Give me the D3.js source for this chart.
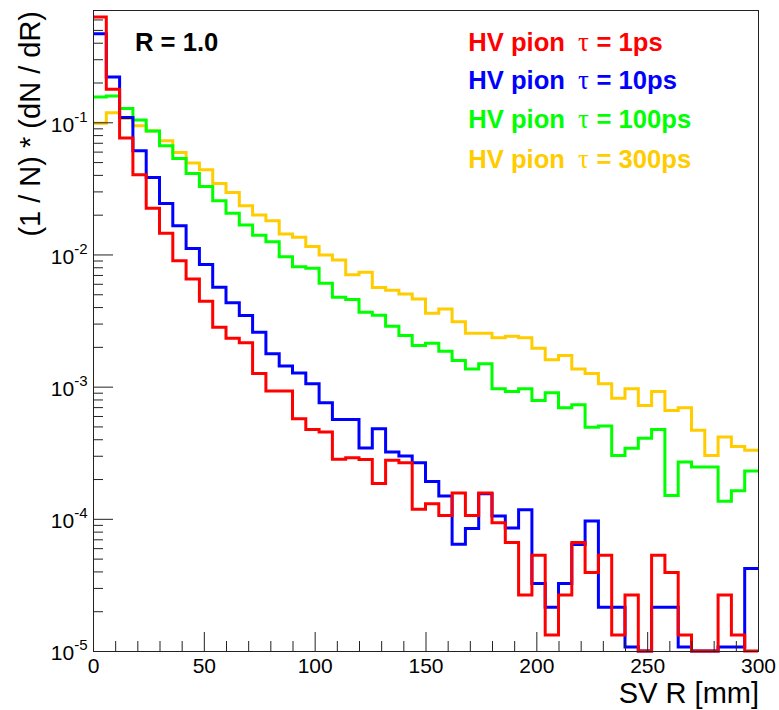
<!DOCTYPE html>
<html><head><meta charset="utf-8">
<script src="https://cdn.jsdelivr.net/npm/d3@7"></script>
<style>
html,body{margin:0;padding:0;background:#fff;}
svg{display:block;}
text{font-family:"Liberation Sans",Arial,Helvetica,sans-serif;}
</style></head><body>
<svg id="c" width="779" height="710"></svg>
<script>
// ---- data ----
const binLow = [0,6,12,18,24,30,36,42,48,54,60,66,72,78,84,90,96,102,108,114,
  120,126,132,138,144,150,156,162,168,174,180,186,192,198,204,210,216,222,228,234,
  240,246,252,258,264,270,276,282,288,294];
const binWidth = 6;

const tau1 = [0.625,0.178,0.0759,0.0401,0.0224,0.0145,0.00897,0.00653,0.00443,0.00282,
  0.00232,0.00215,0.00126,0.000925,0.000925,0.000571,0.000475,0.000454,0.000282,0.000290,
  0.000281,0.000185,0.000277,0.000266,0.000118,0.000130,0.000106,0.000157,0.000106,0.000157,
  0.0000933,0.0000662,0.0000265,0.0000531,0.0000132,0.0000265,0.0000662,0.0000393,0.0000531,0.0000132,
  0.0000265,0,0.0000531,0.0000393,0.0000132,0,0,0.0000265,0.0000132,0];

const tau10 = [0.468,0.220,0.1086,0.0608,0.0382,0.0243,0.0165,0.0111,0.00838,0.00565,
  0.00431,0.00345,0.00258,0.00177,0.00143,0.00127,0.00105,0.000755,0.000565,0.000565,
  0.000344,0.000481,0.000320,0.000299,0.000266,0.000192,0.000149,0.0000643,0.0000845,0.000155,
  0.000105,0.0000853,0.000117,0.0000324,0.0000214,0.0000324,0.0000640,0.0000964,0.0000214,0.0000214,
  0.0000107,0,0.0000214,0.0000214,0.0000107,0,0,0.0000107,0.0000107,0.0000421];

const tau100 = [0.1556,0.158,0.127,0.1042,0.0861,0.0664,0.0532,0.0410,0.0327,0.0255,
  0.0205,0.0167,0.0140,0.0125,0.00962,0.00809,0.00785,0.00605,0.00474,0.00456,
  0.00366,0.00347,0.00286,0.00244,0.00205,0.00213,0.00185,0.00158,0.00136,0.00149,
  0.000964,0.000920,0.000964,0.000787,0.000899,0.000692,0.000730,0.000494,0.000504,0.000301,
  0.000342,0.000407,0.000473,0.000150,0.000269,0.000247,0.000247,0.000136,0.000163,0.000230];

const tau300 = [0.0984,0.118,0.107,0.0940,0.0861,0.0724,0.0590,0.0491,0.0437,0.0344,
  0.0294,0.0234,0.0199,0.0180,0.0143,0.0135,0.0115,0.00991,0.00908,0.00703,
  0.00733,0.00562,0.00537,0.00502,0.00461,0.00359,0.00387,0.00310,0.00254,0.00254,
  0.00234,0.00241,0.00234,0.00195,0.00160,0.00172,0.00136,0.00126,0.00105,0.000818,
  0.000964,0.000721,0.000920,0.000661,0.000692,0.000467,0.000302,0.000416,0.000353,0.000330];

const seriesNames = ["1ps","10ps","100ps","300ps"];
const seriesColors = ["#ff0000","#0000ff","#00ff00","#ffcc00"];
const seriesValues = [tau1, tau10, tau100, tau300];

const xTicksMajor = [0,50,100,150,200,250,300];
const xTicksMinor = [10,20,30,40,60,70,80,90,110,120,130,140,160,170,180,190,210,220,230,240,260,270,280,290];
const yExponents = [-5,-4,-3,-2,-1];
const yDomain = [1e-5, 0.695];

// ---- layout ----
const m = {left:93, right:758, top:11, bottom:651};
const svg = d3.select("#c");
const x = d3.scaleLinear().domain([0,300]).range([m.left, m.right]);
const y = d3.scaleLog().domain(yDomain).range([m.bottom, m.top]);

// frame
svg.append("rect").attr("x", m.left+0.5).attr("y", m.top-0.5)
  .attr("width", m.right-m.left).attr("height", m.bottom-m.top+1)
  .attr("fill","none").attr("stroke","#222").attr("stroke-width",1);

// histograms (drawn yellow, green, blue, red)
const line = d3.line();
for (let s = seriesValues.length-1; s >= 0; s--) {
  const vals = seriesValues[s];
  const pts = [];
  vals.forEach((v,i) => {
    const vc = Math.max(v, yDomain[0]);
    pts.push([x(binLow[i]), y(vc)]);
    pts.push([x(binLow[i]+binWidth), y(vc)]);
  });
  svg.append("path").attr("d", line(pts)).attr("fill","none")
    .attr("stroke", seriesColors[s]).attr("stroke-width",3)
    .attr("stroke-linejoin","miter");
}

// x axis
const gx = svg.append("g").attr("transform",`translate(0,${m.bottom})`);
gx.call(d3.axisBottom(x).tickValues(xTicksMajor).tickSize(-19).tickSizeOuter(0).tickPadding(7.5));
gx.selectAll("text").attr("font-size",21).attr("fill","#000")
  .attr("font-family",'"Liberation Sans",Arial,sans-serif');
gx.select(".domain").attr("stroke","#222");
const gxm = svg.append("g").attr("transform",`translate(0,${m.bottom})`);
gxm.call(d3.axisBottom(x).tickValues(xTicksMinor).tickSize(-10).tickSizeOuter(0).tickFormat(""));
gxm.select(".domain").remove();

// y axis
const yMinor = [];
yExponents.forEach(e => { for (let k=2;k<=9;k++){ const v=k*Math.pow(10,e); if (v<=yDomain[1]) yMinor.push(v);} });
const gy = svg.append("g").attr("transform",`translate(${m.left},0)`);
gy.call(d3.axisLeft(y).tickValues(yExponents.map(e=>Math.pow(10,e))).tickSize(-20).tickSizeOuter(0).tickFormat(""));
gy.select(".domain").attr("stroke","#222");
const gym = svg.append("g").attr("transform",`translate(${m.left},0)`);
gym.call(d3.axisLeft(y).tickValues(yMinor).tickSize(-10).tickSizeOuter(0).tickFormat(""));
gym.select(".domain").remove();
svg.selectAll(".tick line").attr("stroke","#222");

// y tick labels 10^e
yExponents.forEach(e => {
  const t = svg.append("text").attr("x", 87.5).attr("y", y(Math.pow(10,e)) + 9.4)
    .attr("text-anchor","end").attr("font-size",21).attr("fill","#000");
  t.append("tspan").text("10");
  t.append("tspan").attr("dy",-10).attr("font-size",15).text("-" + Math.abs(e));
});

// axis titles
svg.append("text").attr("x", m.right+1).attr("y", 703).attr("text-anchor","end")
  .attr("font-size",29).attr("fill","#000").text("SV R [mm]");
svg.append("text").attr("transform",`translate(39.5,${m.top}) rotate(-90)`)
  .attr("text-anchor","end").attr("font-size",29).attr("fill","#000")
  .text("(1 / N) * (dN / dR)");

// R = 1.0
svg.append("text").attr("x",135).attr("y",50.7).attr("font-size",25.6)
  .attr("font-weight","bold").attr("fill","#000").text("R = 1.0");

// legend
const legY = [50.7, 89.3, 128.3, 168.3];
seriesNames.forEach((n,i) => {
  const t = svg.append("text").attr("y", legY[i]).attr("font-size",25.6)
    .attr("font-weight","bold").attr("fill", seriesColors[i]);
  t.append("tspan").attr("x",468.3).text("HV pion");
  t.append("tspan").attr("x",578).attr("font-weight","normal")
    .attr("font-family",'"Liberation Serif","DejaVu Serif",serif').attr("font-size",27).text("τ");
  t.append("tspan").attr("x",596.5).text("= " + n);
});
</script>
</body></html>
